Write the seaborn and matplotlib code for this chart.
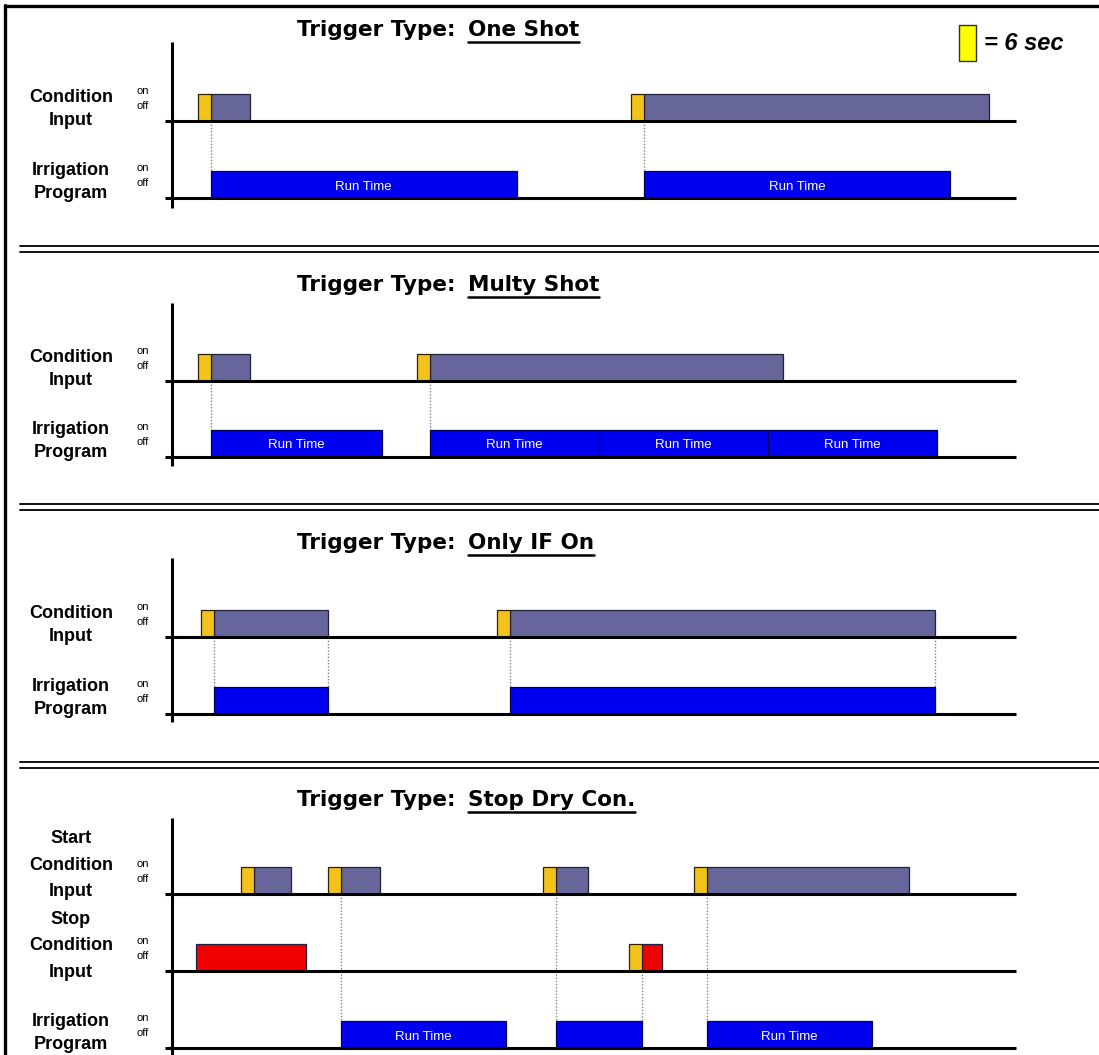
import numpy as np
import seaborn as sns
import matplotlib.pyplot as plt
from matplotlib.patches import Rectangle

# all times in seconds, one yellow block = 6 sec trigger delay
DELAY = 6

# Trigger Type: One Shot
one_cond_on = [12, 212]
one_cond_off = [36, 377]
one_run_start = [18, 218]
one_run_end = [159, 359]
one_run_label = ["Run Time", "Run Time"]
one_marks = [18, 218]

# Trigger Type: Multy Shot
multi_cond_on = [12, 113]
multi_cond_off = [36, 282]
multi_run_start = [18, 119, 197, 275]
multi_run_end = [97, 197, 275, 353]
multi_run_label = ["Run Time", "Run Time", "Run Time", "Run Time"]
multi_marks = [18, 119]

# Trigger Type: Only IF On
onlyif_cond_on = [13.5, 150]
onlyif_cond_off = [72, 352]
onlyif_run_start = [19.5, 156]
onlyif_run_end = [72, 352]
onlyif_run_label = ["", ""]
onlyif_marks = [19.5, 72, 156, 352]

# Trigger Type: Stop Dry Con.
dry_start_on = [32, 72, 171, 241]
dry_start_off = [55, 96, 192, 340]
dry_stop_on = [11, 211]
dry_stop_off = [62, 226]
dry_stop_delay = [0, 6]
dry_run_start = [78, 177, 247]
dry_run_end = [154, 217, 323]
dry_run_label = ["Run Time", "", "Run Time"]
dry_marks_start = [78, 177, 247]
dry_marks_stop = [217]

GREY = "#66669a"
BLUE = "#0000f0"
GOLD = "#f2c31a"
YELLOW = "#ffff00"
RED = "#f00000"

W, H = 1099, 1055
X0 = 172          # pixel column of time zero
PX = 13 / 6       # pixels per second
BOX = 27          # box height in pixels

sns.set_theme(style="white")
plt.rcParams["font.family"] = ["Liberation Sans", "DejaVu Sans"]
plt.rcParams["text.color"] = "black"

fig = plt.figure(figsize=(W / 100, H / 100), dpi=100)
ax = fig.add_axes([0, 0, 1, 1])
ax.set_xlim(-X0 / PX, (W - X0) / PX)
ax.set_ylim(H, 0)
ax.axis("off")
renderer = fig.canvas.get_renderer()


def tx(p):
    return (p - X0) / PX


def lane(y, label, dy, ls=1.4):
    ax.plot([tx(165), tx(1016)], [y, y], color="black", lw=2.2,
            solid_capstyle="butt", zorder=4)
    ax.text(tx(71), y + dy, label, ha="center", va="center", fontsize=13,
            fontweight="bold", linespacing=ls)
    ax.text(tx(137), y - 30, "on", fontsize=8, va="center")
    ax.text(tx(137), y - 15, "off", fontsize=8, va="center")


def events(y, on, off, color, delay=None):
    on = np.asarray(on, float)
    off = np.asarray(off, float)
    delay = np.full(len(on), DELAY) if delay is None else np.asarray(delay, float)
    ax.bar(on + delay, BOX, bottom=y - BOX, width=off - on - delay, align="edge",
           color=color, edgecolor="#202040", linewidth=0.9, zorder=3)
    has = delay > 0
    ax.bar(on[has], BOX, bottom=y - BOX, width=delay[has], align="edge",
           color=GOLD, edgecolor="#302000", linewidth=0.9, zorder=3)


def runs(y, start, end, labels):
    start = np.asarray(start, float)
    end = np.asarray(end, float)
    ax.bar(start, BOX, bottom=y - BOX, width=end - start, align="edge",
           color=BLUE, edgecolor="#000050", linewidth=0.9, zorder=3)
    for s, e, lab in zip(start, end, labels):
        if lab:
            ax.text((s + e) / 2, y - BOX / 2 + 2, lab, color="white",
                    ha="center", va="center", fontsize=9.5, zorder=5)


def marks(times, y0, y1):
    ax.vlines(times, y0, y1, colors="#808080", linestyles=(0, (1, 1.3)),
              lw=1.0, zorder=2)


def vaxis(top, bottom):
    ax.plot([0, 0], [top, bottom], color="black", lw=2.2,
            solid_capstyle="butt", zorder=4)


def title(y, kind):
    t1 = ax.text(tx(297), y, "Trigger Type:", fontsize=15.5, fontweight="bold",
                 va="center", family="DejaVu Sans")
    bb = t1.get_window_extent(renderer)
    x1 = ax.transData.inverted().transform((bb.x1, 0))[0] + 12 / PX
    t2 = ax.text(x1, y, kind, fontsize=15.5, fontweight="bold", va="center",
                 family="DejaVu Sans")
    bb2 = t2.get_window_extent(renderer)
    x2 = ax.transData.inverted().transform((bb2.x1, 0))[0]
    ax.plot([x1, x2], [y + 12, y + 12], color="black", lw=1.8)


# frame and separators
ax.plot([tx(5), tx(5)], [5, H], color="black", lw=2.4)
ax.plot([tx(5), tx(W)], [6, 6], color="black", lw=2.4)
for ys in [246, 504, 762]:
    for off in [0, 6]:
        ax.plot([tx(20), tx(W)], [ys + off, ys + off], color="black", lw=1.3)

# legend key
ax.add_patch(Rectangle((tx(959), 25), tx(976) - tx(959), 36, facecolor=YELLOW,
                       edgecolor="#303030", lw=1.0))
ax.text(tx(984), 44, "= 6 sec", fontsize=17, fontweight="bold",
        fontstyle="italic", va="center")

# panel 1
title(30, "One Shot")
vaxis(42, 208)
lane(121, "Condition\nInput", -12)
lane(198, "Irrigation\nProgram", -16)
events(121, one_cond_on, one_cond_off, GREY)
runs(198, one_run_start, one_run_end, one_run_label)
marks(one_marks, 121, 198 - BOX)

# panel 2
title(285, "Multy Shot")
vaxis(303, 466)
lane(381, "Condition\nInput", -12)
lane(457, "Irrigation\nProgram", -16)
events(381, multi_cond_on, multi_cond_off, GREY)
runs(457, multi_run_start, multi_run_end, multi_run_label)
marks(multi_marks, 381, 457 - BOX)

# panel 3
title(543, "Only IF On")
vaxis(558, 722)
lane(637, "Condition\nInput", -12)
lane(714, "Irrigation\nProgram", -16)
events(637, onlyif_cond_on, onlyif_cond_off, GREY)
runs(714, onlyif_run_start, onlyif_run_end, onlyif_run_label)
marks(onlyif_marks, 637, 714 - BOX)

# panel 4
title(800, "Stop Dry Con.")
vaxis(818, H)
lane(894, "Start\nCondition\nInput", -29, 1.75)
lane(971, "Stop\nCondition\nInput", -25, 1.75)
lane(1048, "Irrigation\nProgram", -15)
events(894, dry_start_on, dry_start_off, GREY)
events(971, dry_stop_on, dry_stop_off, RED, dry_stop_delay)
runs(1048, dry_run_start, dry_run_end, dry_run_label)
marks(dry_marks_start, 894, 1048 - BOX)
marks(dry_marks_stop, 971, 1048 - BOX)

fig.savefig("out.png", dpi=100, facecolor="white")
